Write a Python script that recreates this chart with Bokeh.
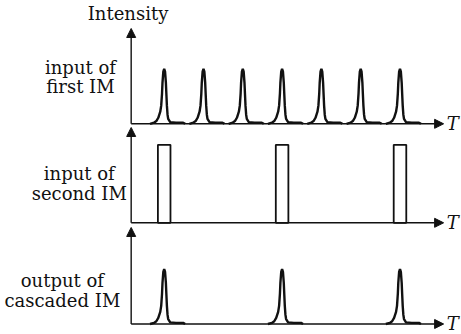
from bokeh.plotting import figure
from bokeh.models import Range1d, Arrow, NormalHead, ColumnDataSource
from bokeh.core.properties import value
from bokeh.embed import file_html
from bokeh.resources import INLINE

# ---------------- data ----------------
# pulse times (in units of the pulse period)
input1_times = [1, 2, 3, 4, 5, 6, 7]
gate_times = [1, 4, 7]
output_times = [1, 4, 7]
gate_width = 0.32          # gate duration (period units)
gate_level = 1.0           # gate transmission
# pulse profile (time offset, normalised intensity)
profile_dt = [-0.36, -0.26, -0.20, -0.15, -0.10, -0.076, -0.055, -0.043, -0.022, 0.0,
              0.022, 0.043, 0.055, 0.069, 0.085, 0.102, 0.153, 0.30, 0.483, 0.534]
profile_h = [0.0, 0.02, 0.05, 0.11, 0.22, 0.33, 0.55, 0.75, 0.95, 1.0,
             0.95, 0.75, 0.55, 0.33, 0.17, 0.09, 0.03, 0.02, 0.02, 0.0]

panel_labels = [["input of", "first IM"],
                ["input of", "second IM"],
                ["output of", "cascaded IM"]]
y_title = "Intensity"
x_title = "T"

# ---------------- style / layout ----------------
FONT = "DejaVu Serif"
INK = "#111111"
W, H = 461, 334
X0, X1 = -3.165, 8.565     # x range (period units)
AX_START, AX_END = 0.16, 8.11
T_X = 8.34
LABEL_X = [-1.13, -1.16, -1.59]
# per-panel vertical ranges (each panel has its own y scale spanning the frame)
panel_ranges = {
    "p1": (-3.831, 2.242),
    "p2": (-1.432, 2.850),
    "p3": (-0.191, 5.882),
}
AX_TOP = {"p1": 1.733, "p2": 1.222, "p3": 1.755}
LABEL_Y = {"p1": [1.03, 0.68], "p2": [0.63, 0.375], "p3": [0.79, 0.427]}

p = figure(width=W, height=H, x_range=Range1d(X0, X1),
           y_range=Range1d(*panel_ranges["p1"]),
           output_backend="svg", toolbar_location=None, min_border=0,
           background_fill_color="white", border_fill_color="white",
           outline_line_color=None)
p.extra_y_ranges = {k: Range1d(*v) for k, v in panel_ranges.items()}
p.axis.visible = False
p.grid.visible = False


def add_axes(rn):
    p.add_layout(Arrow(end=NormalHead(size=9, fill_color=INK, line_color=INK),
                       x_start=AX_START, y_start=0, x_end=AX_START, y_end=AX_TOP[rn],
                       line_color=INK, line_width=1.4, y_range_name=rn))
    p.add_layout(Arrow(end=NormalHead(size=9, fill_color=INK, line_color=INK),
                       x_start=AX_START, y_start=0, x_end=AX_END, y_end=0,
                       line_color=INK, line_width=1.4, y_range_name=rn))
    p.text(x=[T_X], y=[0.0], text=[x_title], text_font=value(FONT),
           text_font_style="italic", text_font_size="18px", text_align="center",
           text_baseline="middle", text_color=INK, y_range_name=rn)


def add_labels(rn, lx, lines):
    p.text(x=[lx, lx], y=LABEL_Y[rn], text=lines, text_font=value(FONT),
           text_font_size="18px", text_align="center", text_baseline="middle",
           text_color=INK, y_range_name=rn)


def pulses(times):
    xs = [[t + d for d in profile_dt] for t in times]
    ys = [list(profile_h) for _ in times]
    return ColumnDataSource(dict(xs=xs, ys=ys))


# panel 1: input of first IM
add_axes("p1")
p.multi_line("xs", "ys", source=pulses(input1_times), line_color=INK,
             line_width=2.4, y_range_name="p1")
add_labels("p1", LABEL_X[0], panel_labels[0])
p.text(x=[AX_START - 0.08], y=[2.0], text=[y_title], text_font=value(FONT),
       text_font_size="18px", text_align="center", text_baseline="middle",
       text_color=INK, y_range_name="p1")

# panel 2: input of second IM (gates)
add_axes("p2")
p.quad(left=[t - gate_width / 2 for t in gate_times],
       right=[t + gate_width / 2 for t in gate_times],
       bottom=[0] * len(gate_times), top=[gate_level] * len(gate_times),
       fill_color=None, line_color=INK, line_width=1.8, y_range_name="p2")
add_labels("p2", LABEL_X[1], panel_labels[1])

# panel 3: output of cascaded IM
add_axes("p3")
p.multi_line("xs", "ys", source=pulses(output_times), line_color=INK,
             line_width=2.4, y_range_name="p3")
add_labels("p3", LABEL_X[2], panel_labels[2])

open("out.html", "w").write(file_html(p, INLINE))
